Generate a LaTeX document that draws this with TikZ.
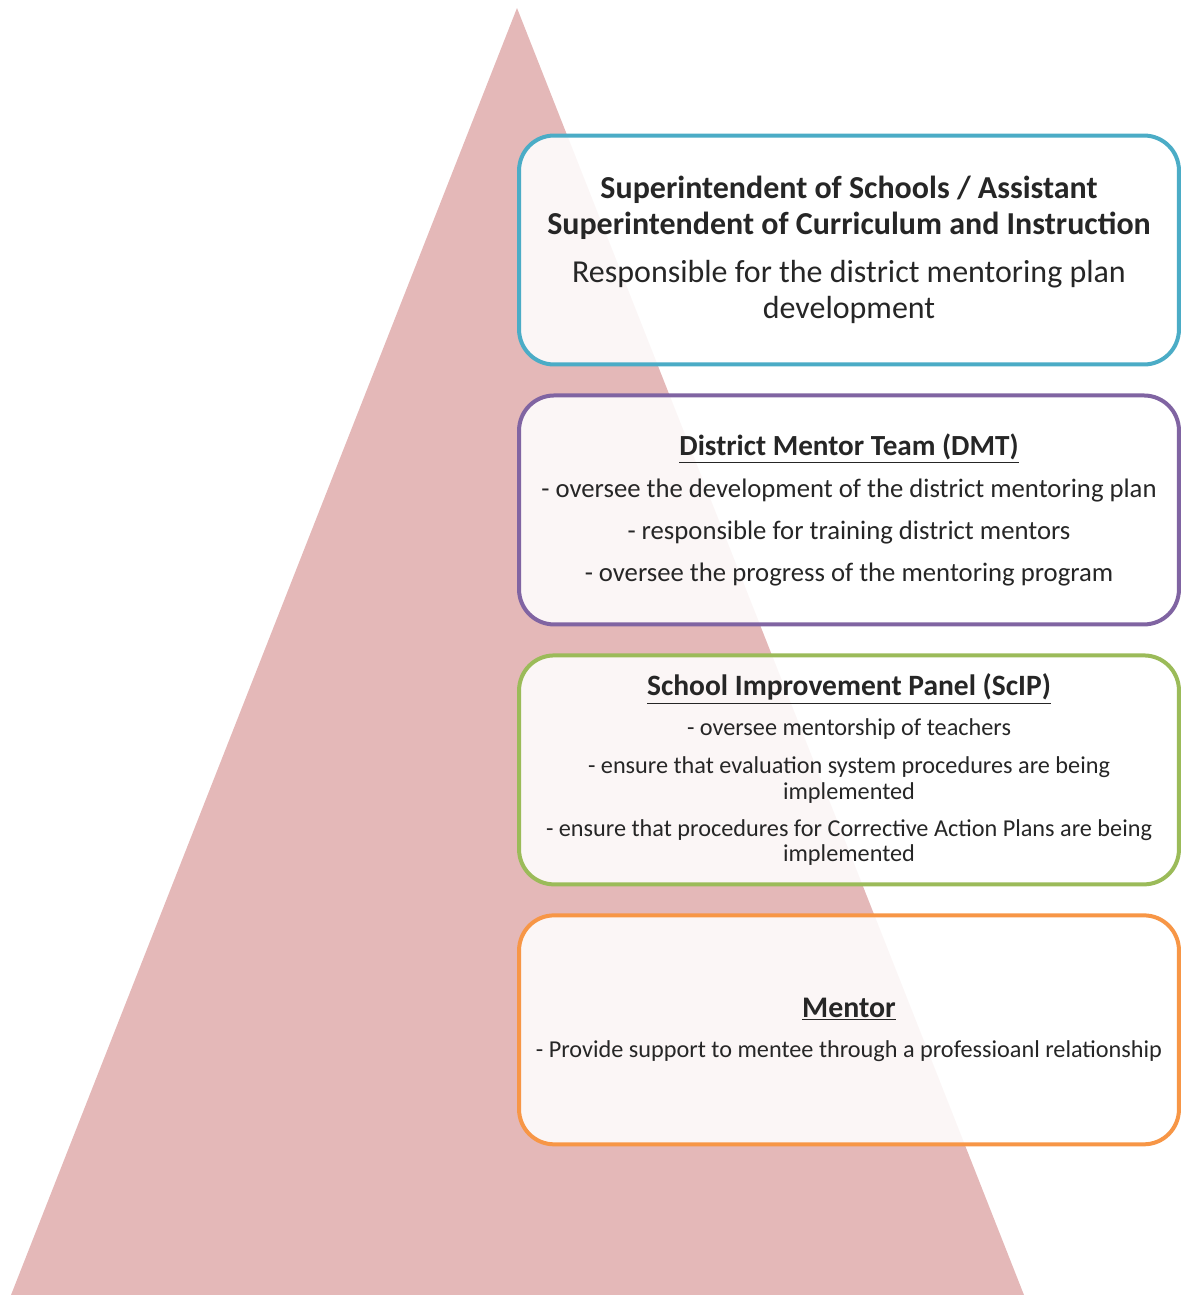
\documentclass[tikz,border=0pt]{standalone}
\usepackage{fontspec}
\setmainfont{Carlito}
\definecolor{PyramidPink}{HTML}{E4B8B8}
\definecolor{TierBlue}{HTML}{4BACC6}
\definecolor{TierPurple}{HTML}{8064A2}
\definecolor{TierGreen}{HTML}{9BBB59}
\definecolor{TierOrange}{HTML}{F79646}
\definecolor{BodyText}{HTML}{262626}
\usetikzlibrary{positioning}

\begin{document}
\begin{tikzpicture}[x=0.02cm,y=-0.02cm,node distance=0.54cm,
    tier/.style={rounded corners=0.7cm,line width=0.08cm,fill=white,
                 fill opacity=0.88,text opacity=1,minimum width=13.2cm,
                 minimum height=4.58cm,align=center,text=BodyText,
                 inner sep=2pt}]

  \useasboundingbox (0,0) rectangle (1181,1295);

  % pyramid backdrop
  \fill[PyramidPink] (517,8) -- (11,1295) -- (1024,1295) -- cycle;

  \node[tier,draw=TierBlue,font=\fontsize{18.2}{20.4}\selectfont] (supt) at (849,250)
    {\textbf{Superintendent of Schools / Assistant}\\
     \textbf{Superintendent of Curriculum and Instruction}\\[7pt]
     Responsible for the district mentoring plan\\
     development};
  \node[tier,draw=TierPurple,font=\fontsize{15.2}{23.8}\selectfont] (dmt) [below=of supt]
    {{\fontsize{16.6}{23.8}\selectfont\textbf{\underline{District Mentor Team (DMT)}}}\\
     - oversee the development of the district mentoring plan\\
     - responsible for training district mentors\\
     - oversee the progress of the mentoring program};
  \node[tier,draw=TierGreen,font=\fontsize{13.8}{14.7}\selectfont] (scip) [below=of dmt]
    {{\fontsize{16.8}{14.7}\selectfont\textbf{\underline{School Improvement Panel (ScIP)}}}\\[8pt]
     - oversee mentorship of teachers\\[7pt]
     - ensure that evaluation system procedures are being\\
     implemented\\[6pt]
     - ensure that procedures for Corrective Action Plans are being\\
     implemented};
  \node[tier,draw=TierOrange,font=\fontsize{13.8}{23.2}\selectfont] (mentor) [below=of scip]
    {{\fontsize{17}{14.7}\selectfont\textbf{\underline{Mentor}}}\\
     - Provide support to mentee through a professioanl relationship};
\end{tikzpicture}
\end{document}
